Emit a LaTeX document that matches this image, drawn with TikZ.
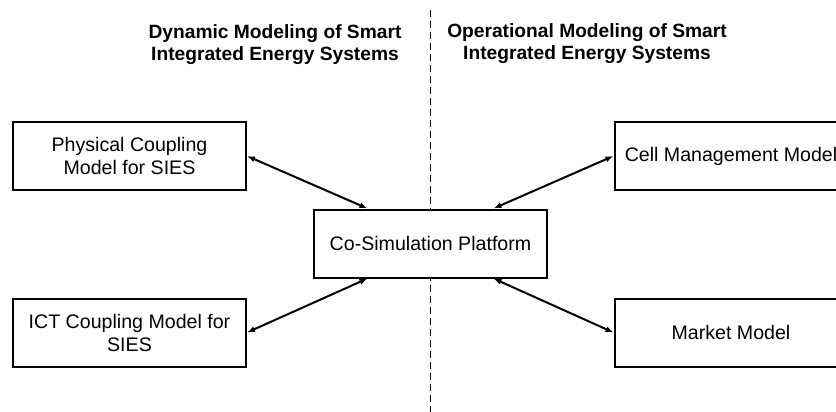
\documentclass[tikz,border=0pt]{standalone}
\usepackage{fontspec}
\setmainfont{Liberation Sans}
\usepackage{tikz}
\usetikzlibrary{arrows.meta}
\tikzstyle{model}=[draw, line width=1pt, minimum width=116.5pt, minimum height=34pt, inner sep=0pt, align=center, font=\fontsize{9.8}{11.5}\selectfont]
\tikzstyle{title}=[inner sep=0pt, align=center, font=\fontsize{9.6}{11}\selectfont\bfseries]
\tikzstyle{link}=[line width=1pt, {Latex[length=4pt,width=3pt]}-{Latex[length=4pt,width=3pt]}]

\begin{document}
\begin{tikzpicture}[x=0.5pt, y=-0.5pt]
        \clip (0, 0) rectangle (836, 412);
        \node[title] (dyn) at (275, 45) {Dynamic Modeling of Smart\\Integrated Energy Systems};
        \node[title] (oper) at (587, 44) {Operational Modeling of Smart\\Integrated Energy Systems};
        \coordinate (divtop) at (430, 10);
        \coordinate (divbot) at (430, 412);
        \draw[line width=0.5pt, dash pattern=on 3.5pt off 2pt] (divtop) -- (divbot);
        \node[model, fill=white] (cosim) at (430.5, 243.5) {Co-Simulation Platform};
        \node[model] (phys) at (129.5, 156) {Physical Coupling\\Model for SIES};
        \node[model] (ict) at (129.5, 332.5) {ICT Coupling Model for\\SIES};
        \node[model] (cell) at (731, 156) {Cell Management Model};
        \node[model] (market) at (731, 332.5) {Market Model};
        \draw[link] (phys.east) -- ([xshift=-31.5pt]cosim.north);
        \draw[link] (ict.east) -- ([xshift=-31.5pt]cosim.south);
        \draw[link] (cell.west) -- ([xshift=31.5pt]cosim.north);
        \draw[link] (market.west) -- ([xshift=31.5pt]cosim.south);
    \end{tikzpicture}
\end{document}
